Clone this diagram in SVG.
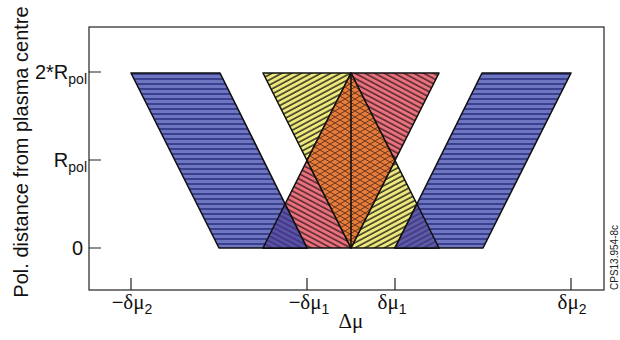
<svg xmlns="http://www.w3.org/2000/svg" width="620" height="340" viewBox="0 0 620 340">
<style>
.ax{fill:none;stroke:#222;stroke-width:1.2}
.lbl{font-family:"Liberation Sans",Arial,sans-serif;font-size:20px;fill:#111}
.sym{font-family:"Liberation Serif","Times New Roman",serif;font-size:21px}
.sub{font-family:"Liberation Sans",Arial,sans-serif;font-size:14px}
.edge{stroke:#111;stroke-width:1.6;stroke-linejoin:round}
</style>
<defs>
<pattern id="pBlue" patternUnits="userSpaceOnUse" width="10" height="5">
<rect width="10" height="5" fill="#6e76c2"/>
<rect y="3" width="10" height="2" fill="#39418e"/>
</pattern>
<pattern id="pYel" patternUnits="userSpaceOnUse" width="10" height="4.6" patternTransform="rotate(-28)">
<rect width="10" height="4.6" fill="#eee97e"/>
<rect y="3" width="10" height="1.6" fill="#3c3a22"/>
</pattern>
<pattern id="pPink" patternUnits="userSpaceOnUse" width="10" height="4.6" patternTransform="rotate(28)">
<rect width="10" height="4.6" fill="#ea727c"/>
<rect y="3" width="10" height="1.6" fill="#5a2a32"/>
</pattern>
<pattern id="pOr" patternUnits="userSpaceOnUse" width="10" height="6">
<rect width="10" height="6" fill="#e67c3c"/>
<path d="M0,0 L10,6 M0,6 L10,0 M-5,3 L0,6 M10,0 L15,3 M-5,3 L0,0 M10,6 L15,3" stroke="#6a3418" stroke-width="1"/>
</pattern>
<pattern id="pPurL" patternUnits="userSpaceOnUse" width="10" height="4.6" patternTransform="rotate(28)">
<rect width="10" height="4.6" fill="#5a52a6"/>
<rect y="3" width="10" height="1.4" fill="#3a3078"/>
</pattern>
<pattern id="pPurR" patternUnits="userSpaceOnUse" width="10" height="4.6" patternTransform="rotate(-28)">
<rect width="10" height="4.6" fill="#5e5aa8"/>
<rect y="3" width="10" height="1.4" fill="#3a3478"/>
</pattern>
</defs>
<rect width="620" height="340" fill="#ffffff"/>

<g id="frame">
<rect class="ax" x="89" y="27" width="515" height="263"/>
<path class="ax" d="M89,72 H101 M89,160 H101 M89,248 H101 M131,290 V278 M307,290 V278 M395,290 V278 M571,290 V278"/>
</g>

<g id="yellow-left">
<polygon class="edge" points="263,73 351,73 307,160.5" fill="url(#pYel)"/>
</g>
<g id="pink-right">
<polygon class="edge" points="351,73 439,73 395,160.5" fill="url(#pPink)"/>
</g>
<g id="pink-left">
<polygon class="edge" points="307,160.5 263,248 351,248" fill="url(#pPink)"/>
</g>
<g id="yellow-right">
<polygon class="edge" points="395,160.5 351,248 439,248" fill="url(#pYel)"/>
</g>
<g id="diamond">
<polygon class="edge" points="351,73 395,160.5 351,248 307,160.5" fill="url(#pOr)"/>
<line class="edge" x1="351" y1="73" x2="351" y2="248" stroke-width="2"/>
</g>
<g id="blue-left">
<polygon class="edge" points="131,73 220,73 307,248 219,248" fill="url(#pBlue)"/>
</g>
<g id="blue-right">
<polygon class="edge" points="571,73 482,73 395,248 483,248" fill="url(#pBlue)"/>
</g>
<g id="overlap-left">
<polygon class="edge" points="285,204 263,248 307,248" fill="url(#pPurL)"/>
</g>
<g id="overlap-right">
<polygon class="edge" points="417,204 395,248 439,248" fill="url(#pPurR)"/>
</g>

<g id="labels">
<text class="lbl" transform="translate(28,152) rotate(-90)" text-anchor="middle">Pol. distance from plasma centre</text>
<text class="lbl" x="87" y="79" text-anchor="end">2*R<tspan class="sub" dy="5">pol</tspan></text>
<text class="lbl" x="87" y="167" text-anchor="end">R<tspan class="sub" dy="5">pol</tspan></text>
<text class="lbl" x="83" y="255" text-anchor="end">0</text>
<text class="lbl" x="132" y="309" text-anchor="middle"><tspan class="lbl">−</tspan><tspan class="sym">δμ</tspan><tspan class="sub" dy="5">2</tspan></text>
<text class="lbl" x="309" y="309" text-anchor="middle"><tspan class="lbl">−</tspan><tspan class="sym">δμ</tspan><tspan class="sub" dy="5">1</tspan></text>
<text class="lbl" x="392" y="309" text-anchor="middle"><tspan class="sym">δμ</tspan><tspan class="sub" dy="5">1</tspan></text>
<text class="lbl" x="572" y="309" text-anchor="middle"><tspan class="sym">δμ</tspan><tspan class="sub" dy="5">2</tspan></text>
<text class="lbl" x="351" y="328" text-anchor="middle"><tspan class="sym">Δμ</tspan></text>
<text transform="translate(618,290) rotate(-90)" font-family="Liberation Sans, Arial, sans-serif" font-size="10" fill="#222">CPS13.954-8c</text>
</g>
</svg>
